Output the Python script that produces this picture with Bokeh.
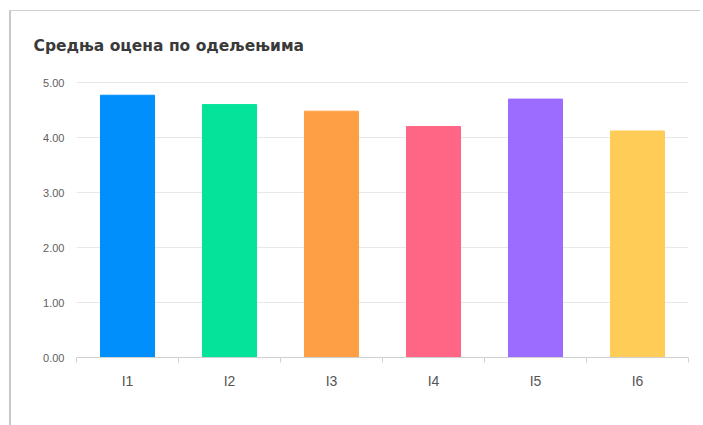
from bokeh.plotting import figure
from bokeh.models import (ColumnDataSource, Range1d, LinearAxis, FixedTicker, Legend,
                          LegendItem, NumeralTickFormatter, CategoricalAxis)
from bokeh.embed import file_html
from bokeh.resources import INLINE

title_text = "Средња оцена по одељењима"
classes = ["I1", "I2", "I3", "I4", "I5", "I6"]
averages = [4.77, 4.60, 4.48, 4.20, 4.70, 4.12]
colors = ["#008FFB", "#05E39A", "#FF9F45", "#FF6584", "#9C6BFF", "#FFCC57"]
y_ticks = [0, 1, 2, 3, 4, 5]

src = ColumnDataSource(dict(cls=classes, avg=averages, color=colors))

p = figure(x_range=classes, y_range=Range1d(0, 5.42), frame_width=612, frame_height=298,
           output_backend="svg", toolbar_location=None, x_axis_location=None,
           min_border_left=65, min_border_right=12, min_border_top=48,
           min_border_bottom=10, outline_line_color=None)
p.styles = {"border-left": "2px solid #c8c8c8", "border-top": "1px solid #d0d0d0",
            "margin-left": "9px", "margin-top": "10px"}

r = p.vbar(x="cls", top="avg", width=0.53, color="color", source=src)

p.title.text = title_text
p.title.text_font = "DejaVu Sans"
p.title.text_font_style = "bold"
p.title.text_font_size = "15.5px"
p.title.text_color = "#3a3a3a"
p.title.align = "left"
p.title.offset = -43
p.title.standoff = 10

yax = p.yaxis[0]
yax.ticker = FixedTicker(ticks=y_ticks)
yax.formatter = NumeralTickFormatter(format="0.00")
yax.axis_line_color = None
yax.major_tick_line_color = None
yax.minor_tick_line_color = None
yax.major_label_text_font_size = "11px"
yax.major_label_text_color = "#606060"
yax.major_label_standoff = 6
p.ygrid.grid_line_color = "#e8e8e8"
p.ygrid.ticker = FixedTicker(ticks=y_ticks)
p.xgrid.grid_line_color = None

# boundaries between category slots (synthetic coordinates of the factor range)
tick_axis = LinearAxis(ticker=FixedTicker(ticks=list(range(len(classes) + 1))),
                       major_label_text_font_size="1px", major_label_text_color=None,
                       major_label_standoff=0,
                       major_tick_in=0, major_tick_out=5,
                       major_tick_line_color="#d0d0d0", axis_line_color="#d0d0d0",
                       minor_tick_line_color=None)
p.add_layout(tick_axis, "below")

cat_axis = CategoricalAxis(axis_line_color=None, major_tick_line_color=None,
                           major_label_text_font_size="14px",
                           major_label_text_color="#555555",
                           major_label_standoff=4)
p.add_layout(cat_axis, "below")

items = [LegendItem(label=c, renderers=[r], index=i) for i, c in enumerate(classes)]
legend = Legend(items=items, orientation="horizontal", location=(159, 14),
                label_text_font_size="13px", label_text_color="#555555",
                label_height=12, glyph_width=14, glyph_height=10, label_standoff=3,
                spacing=8, padding=2, margin=0, border_line_color=None,
                background_fill_alpha=0)
p.add_layout(legend, "below")

open("out.html", "w").write(file_html(p, INLINE))
